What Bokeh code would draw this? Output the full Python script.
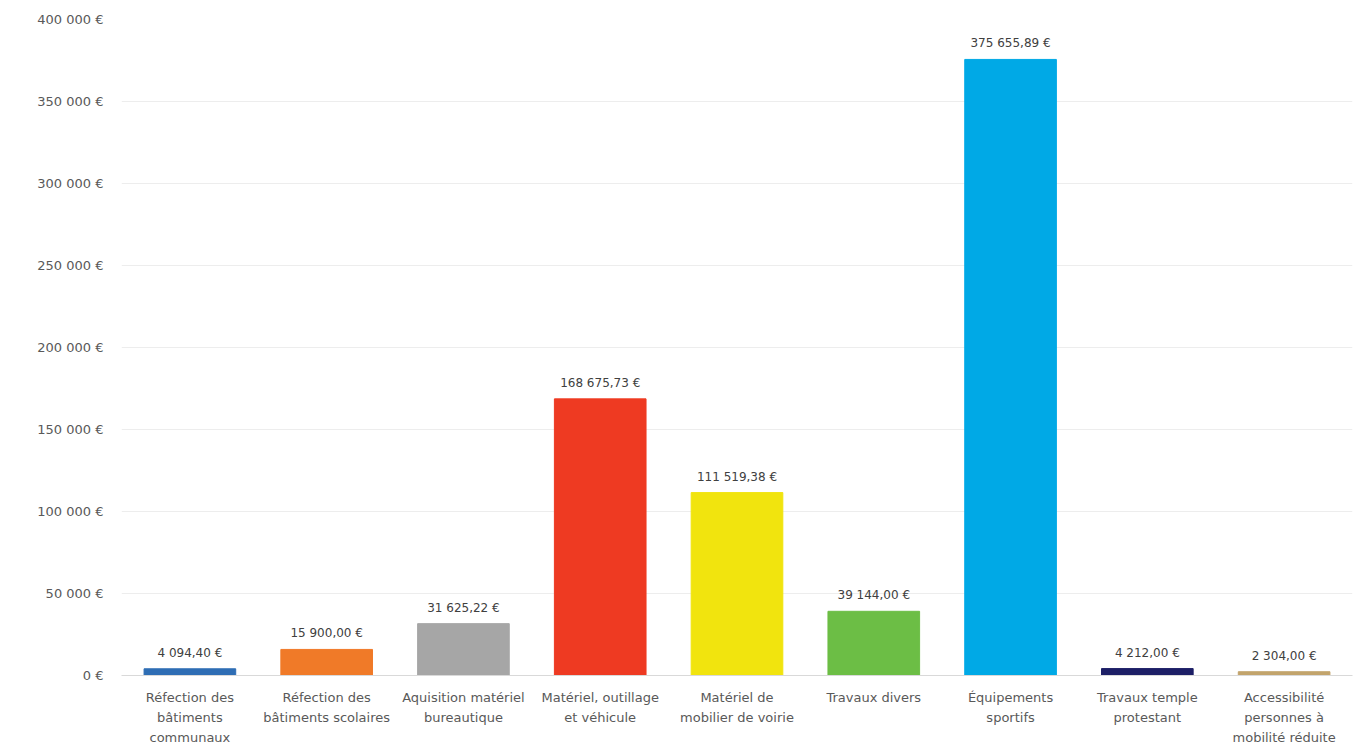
from bokeh.plotting import figure
from bokeh.models import ColumnDataSource, Range1d, FixedTicker, FactorRange
from bokeh.embed import file_html
from bokeh.resources import INLINE
from bokeh.core.properties import value

categories = [
    "Réfection des\nbâtiments\ncommunaux",
    "Réfection des\nbâtiments scolaires",
    "Aquisition matériel\nbureautique",
    "Matériel, outillage\net véhicule",
    "Matériel de\nmobilier de voirie",
    "Travaux divers",
    "Équipements\nsportifs",
    "Travaux temple\nprotestant",
    "Accessibilité\npersonnes à\nmobilité réduite",
]
amounts = [4094.40, 15900.00, 31625.22, 168675.73, 111519.38, 39144.00, 375655.89, 4212.00, 2304.00]
amount_labels = ["4 094,40 €", "15 900,00 €", "31 625,22 €", "168 675,73 €", "111 519,38 €",
                 "39 144,00 €", "375 655,89 €", "4 212,00 €", "2 304,00 €"]
colors = ["#2E6DB4", "#F07A28", "#A6A6A6", "#EE3A22", "#F1E40E", "#6CBE45", "#00A9E6", "#1D1F66", "#C2A46C"]
y_ticks = [0, 50000, 100000, 150000, 200000, 250000, 300000, 350000, 400000]
y_tick_labels = ["0 €", "50 000 €", "100 000 €", "150 000 €", "200 000 €", "250 000 €",
                 "300 000 €", "350 000 €", "400 000 €"]

FONT = "DejaVu Sans"
TXT = "#595959"

src = ColumnDataSource(dict(cat=categories, amt=amounts, lab=amount_labels, col=colors))

p = figure(x_range=FactorRange(*categories, range_padding=0), y_range=Range1d(0, 400000),
           width=1357, height=754, output_backend="svg", toolbar_location=None,
           min_border_left=121, min_border_right=5, min_border_top=19, min_border_bottom=79)
p.outline_line_color = None
p.background_fill_color = "white"
p.border_fill_color = "white"

p.vbar(x="cat", top="amt", width=0.67, color="col", source=src)
p.text(x="cat", y="amt", text="lab", source=src, text_align="center", text_baseline="middle",
       y_offset=-16, text_font=value(FONT), text_font_size="12px", text_color="#404040")

p.xgrid.grid_line_color = None
p.ygrid.grid_line_color = "#EDEDED"
p.ygrid.ticker = FixedTicker(ticks=y_ticks[1:])

ya = p.yaxis[0]
ya.ticker = FixedTicker(ticks=y_ticks)
ya.major_label_overrides = {t: l for t, l in zip(y_ticks, y_tick_labels)}
ya.axis_line_color = None
ya.major_tick_line_color = None
ya.minor_tick_line_color = None
ya.major_label_standoff = 12
ya.major_label_text_font = FONT
ya.major_label_text_font_size = "13px"
ya.major_label_text_color = TXT

xa = p.xaxis[0]
xa.axis_line_color = "#D9D9D9"
xa.major_tick_line_color = None
xa.minor_tick_line_color = None
xa.major_label_standoff = 8
xa.major_label_text_font = FONT
xa.major_label_text_font_size = "13px"
xa.major_label_text_color = TXT
xa.major_label_text_line_height = 1.35

open("out.html", "w").write(file_html(p, INLINE))
